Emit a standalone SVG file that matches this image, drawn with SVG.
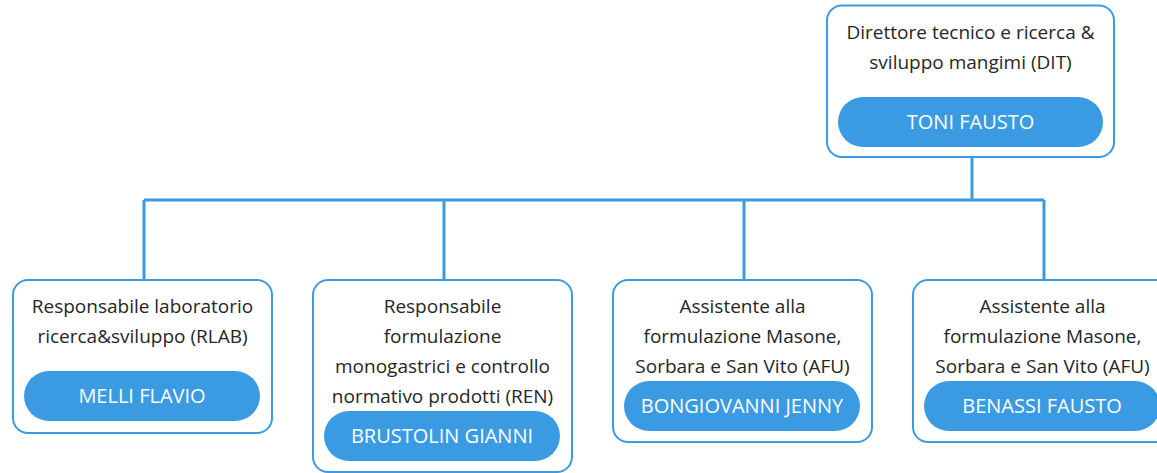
<svg xmlns="http://www.w3.org/2000/svg" width="1157" height="473" viewBox="0 0 1157 473">
<style>
.box{fill:#fff;stroke:#3a9be3;stroke-width:2}
.pill{fill:#3a9be3}
.t{font-family:"Open Sans","Liberation Sans",sans-serif;font-size:19px;fill:#262626;text-anchor:middle}
.p{font-family:"Open Sans","Liberation Sans",sans-serif;font-size:20px;fill:#fff;text-anchor:middle}
.c{fill:none;stroke:#3a9be3;stroke-width:3}
</style>
<rect width="1157" height="473" fill="#fff"/>
<g id="connectors">
<path class="c" d="M972 157V200M144 200H1044M144 200V280M444 200V280M744 200V280M1044 200V280"/>
</g>
<g id="dit">
<rect class="box" x="827" y="5.5" width="287" height="151.5" rx="15"/>
<text class="t" x="970.5" y="39">Direttore tecnico e ricerca &amp;</text>
<text class="t" x="970.5" y="69">sviluppo mangimi (DIT)</text>
<rect class="pill" x="838" y="97" width="265" height="50" rx="25"/>
<text class="p" x="970.5" y="129">TONI FAUSTO</text>
</g>
<g id="rlab">
<rect class="box" x="13" y="280" width="259" height="153" rx="15"/>
<text class="t" x="142.5" y="313">Responsabile laboratorio</text>
<text class="t" x="142.5" y="343">ricerca&amp;sviluppo (RLAB)</text>
<rect class="pill" x="24" y="371" width="236" height="50" rx="25"/>
<text class="p" x="142" y="403">MELLI FLAVIO</text>
</g>
<g id="ren">
<rect class="box" x="313" y="280" width="259" height="192" rx="15"/>
<text class="t" x="442.5" y="313">Responsabile</text>
<text class="t" x="442.5" y="343">formulazione</text>
<text class="t" x="442.5" y="373">monogastrici e controllo</text>
<text class="t" x="442.5" y="403">normativo prodotti (REN)</text>
<rect class="pill" x="324" y="411" width="236" height="50" rx="25"/>
<text class="p" x="442" y="443">BRUSTOLIN GIANNI</text>
</g>
<g id="afu1">
<rect class="box" x="613" y="280" width="259" height="162" rx="15"/>
<text class="t" x="742.5" y="313">Assistente alla</text>
<text class="t" x="742.5" y="343">formulazione Masone,</text>
<text class="t" x="742.5" y="373">Sorbara e San Vito (AFU)</text>
<rect class="pill" x="624" y="381" width="236" height="50" rx="25"/>
<text class="p" x="742" y="413">BONGIOVANNI JENNY</text>
</g>
<g id="afu2">
<rect class="box" x="913" y="280" width="259" height="162" rx="15"/>
<text class="t" x="1042.5" y="313">Assistente alla</text>
<text class="t" x="1042.5" y="343">formulazione Masone,</text>
<text class="t" x="1042.5" y="373">Sorbara e San Vito (AFU)</text>
<rect class="pill" x="924" y="381" width="236" height="50" rx="25"/>
<text class="p" x="1042" y="413">BENASSI FAUSTO</text>
</g>
</svg>
